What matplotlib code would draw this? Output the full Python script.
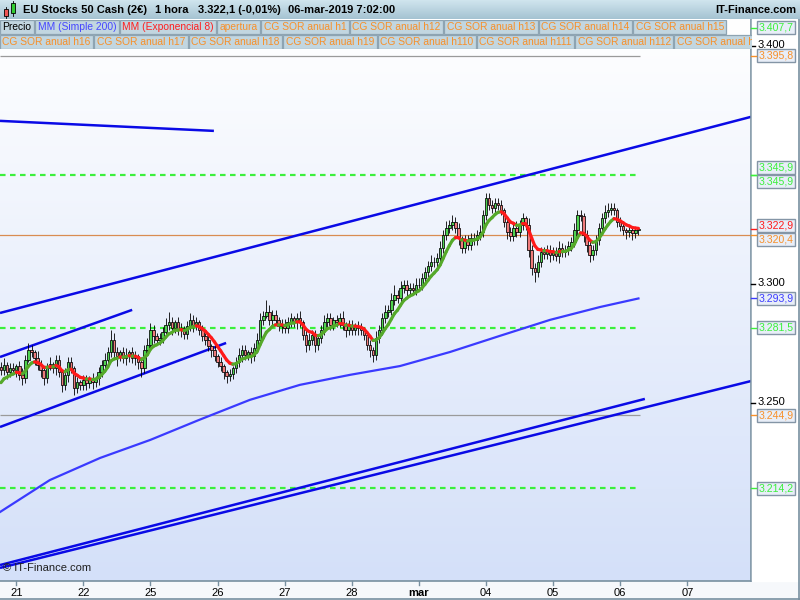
import matplotlib
matplotlib.use("Agg")
import matplotlib.pyplot as plt
import numpy as np
from matplotlib.collections import LineCollection
from matplotlib.colors import LinearSegmentedColormap
from matplotlib.patches import Rectangle

# hourly closes, EU Stocks 50, 20-feb-2019 evening .. 06-mar-2019 07:00
closes = [
    3263.9, 3266.0, 3263.0, 3264.7, 3263.9, 3265.5, 3261.8, 3260.5, 3268.1, 3272.3,
    3271.4, 3268.9, 3266.0, 3263.9, 3260.5, 3264.7, 3266.4, 3264.7, 3268.1, 3263.0,
    3257.6, 3261.8, 3267.2, 3264.7, 3256.3, 3258.8, 3257.6, 3259.7, 3258.4, 3260.5,
    3258.8, 3260.5, 3263.0, 3266.0, 3268.1, 3271.4, 3276.5, 3271.4, 3269.7, 3271.4,
    3268.9, 3270.2, 3271.4, 3268.9, 3269.7, 3267.2, 3264.7, 3272.3, 3274.4, 3280.7,
    3278.2, 3276.5, 3277.3, 3279.8, 3282.8, 3284.0, 3281.5, 3284.0, 3280.7, 3281.5,
    3279.0, 3282.4, 3284.9, 3282.8, 3284.0, 3280.7, 3278.2, 3276.5, 3273.9, 3272.3,
    3269.7, 3267.2, 3265.5, 3263.0, 3261.3, 3262.2, 3264.7, 3267.2, 3270.2, 3272.3,
    3270.2, 3271.4, 3269.7, 3273.1, 3276.5, 3284.9, 3286.6, 3288.2, 3284.9, 3287.0,
    3284.9, 3282.4, 3283.2, 3281.5, 3284.0, 3285.7, 3284.0, 3285.7, 3284.0, 3278.6,
    3274.4, 3276.5, 3278.6, 3274.4, 3277.3, 3280.7, 3284.0, 3285.7, 3282.8, 3284.9,
    3284.0, 3285.7, 3282.8, 3280.7, 3282.8, 3280.7, 3282.4, 3281.5, 3280.7, 3278.6,
    3274.4, 3272.3, 3270.2, 3277.3, 3280.7, 3285.7, 3288.2, 3289.1, 3293.3, 3295.4,
    3294.1, 3298.3, 3299.6, 3297.5, 3298.3, 3297.5, 3299.6, 3299.6, 3302.5, 3305.0,
    3307.6, 3309.2, 3309.2, 3310.9, 3315.1, 3320.6, 3323.5, 3324.8, 3326.1, 3323.5,
    3319.3, 3315.1, 3318.5, 3316.4, 3319.3, 3318.5, 3320.6, 3321.8, 3329.0, 3336.1,
    3333.2, 3331.9, 3334.0, 3333.2, 3331.1, 3326.1, 3321.8, 3320.2, 3323.5, 3321.8,
    3324.8, 3327.7, 3324.8, 3314.3, 3306.7, 3305.0, 3309.2, 3313.4, 3312.6, 3314.3,
    3312.2, 3313.4, 3311.8, 3315.1, 3313.4, 3314.3, 3316.0, 3317.6, 3322.7, 3329.0,
    3328.6, 3320.6, 3316.4, 3312.2, 3314.3, 3318.5, 3323.5, 3327.7, 3330.3, 3331.1,
    3331.9, 3331.1, 3326.1, 3324.4, 3322.7, 3321.8, 3322.7, 3321.4, 3322.7, 3322.9,
]
upper_wick = [
    2, 3, 1, 2, 2, 1, 2, 3, 2, 3, 2, 1, 3, 2, 1, 2, 3, 1, 2, 2,
    1, 3, 2, 2, 1, 2, 1, 2, 2, 1, 2, 1, 2, 2, 3, 2, 4, 3, 2, 1,
    2, 3, 1, 2, 2, 1, 2, 2, 3, 3, 2, 1, 2, 2, 3, 4, 2, 1, 2, 2,
    1, 2, 3, 2, 2, 1, 2, 1, 2, 1, 2, 1, 2, 1, 1, 2, 1, 2, 3, 2,
    2, 1, 2, 2, 3, 3, 2, 5, 3, 2, 2, 1, 2, 2, 2, 2, 1, 2, 3, 1,
    2, 3, 2, 2, 1, 2, 3, 2, 2, 1, 2, 2, 3, 1, 2, 2, 1, 2, 2, 1,
    1, 2, 1, 3, 2, 2, 3, 2, 3, 4, 2, 3, 2, 2, 2, 2, 3, 3, 2, 2,
    2, 3, 2, 2, 3, 2, 3, 2, 3, 2, 2, 1, 2, 2, 2, 2, 2, 3, 2, 2,
    2, 2, 2, 2, 2, 1, 2, 2, 2, 3, 2, 2, 1, 3, 2, 2, 3, 2, 2, 2,
    2, 2, 2, 3, 2, 2, 2, 2, 3, 2, 2, 1, 2, 2, 2, 2, 2, 2, 3, 3,
    2, 2, 1, 2, 1, 1, 2, 1, 1, 1,
]
lower_wick = [
    2, 2, 3, 2, 1, 3, 2, 3, 2, 1, 2, 3, 2, 3, 3, 2, 1, 2, 3, 2,
    3, 2, 3, 2, 3, 2, 2, 2, 3, 2, 3, 2, 3, 2, 2, 2, 2, 3, 4, 2,
    2, 3, 3, 2, 3, 3, 4, 2, 2, 2, 3, 2, 2, 2, 1, 2, 3, 2, 2, 3,
    2, 2, 2, 3, 2, 2, 2, 2, 2, 3, 2, 2, 2, 3, 3, 2, 2, 2, 2, 3,
    2, 2, 3, 2, 2, 2, 2, 1, 2, 2, 2, 2, 3, 2, 2, 2, 2, 3, 2, 2,
    3, 2, 2, 3, 2, 2, 2, 2, 2, 2, 2, 2, 2, 3, 2, 2, 2, 3, 2, 2,
    2, 3, 3, 2, 2, 2, 2, 2, 2, 2, 2, 2, 2, 3, 2, 2, 2, 2, 2, 2,
    2, 2, 2, 2, 2, 2, 2, 2, 2, 2, 3, 2, 2, 2, 2, 2, 2, 2, 2, 2,
    2, 2, 2, 2, 2, 2, 3, 2, 2, 2, 2, 2, 2, 3, 3, 4, 2, 2, 2, 2,
    3, 2, 2, 3, 2, 2, 2, 2, 2, 2, 2, 3, 3, 3, 2, 2, 2, 2, 2, 2,
    2, 2, 2, 2, 2, 3, 2, 3, 2, 2,
]
first_open = 3265.0
ema_seed = 3257.0

# simple 200 moving average
ma200_bar = [-0.3, 16, 32.5, 49, 65, 81.6, 98, 114.4, 130.8, 147.2, 163.6, 180, 196.4, 209]
ma200_val = [3204.2, 3217.6, 3226.9, 3234.5, 3242.9, 3251.3, 3257.6, 3261.8, 3265.5,
             3271.4, 3278.2, 3284.9, 3290.3, 3293.9]

# drawn trend lines: bar0, price0, bar1, price1
trend_lines = [
    (-0.33, 3368.5, 69.8, 3364.3),
    (-0.33, 3287.8, 245.9, 3370.2),
    (-0.33, 3269.3, 43.0, 3289.1),
    (-0.33, 3239.9, 73.8, 3275.2),
    (-0.33, 3181.9, 211.1, 3251.7),
    (-0.33, 3180.7, 245.9, 3259.2),
]
green_levels = [3407.7, 3345.9, 3281.5, 3214.2]
grey_levels = [3395.8, 3244.9]
apertura = 3320.4
last_price = 3322.9

day_start_bar = [5, 27, 49, 71, 93, 115, 137, 159, 181, 203, 225]
day_labels = ["21", "22", "25", "26", "27", "28", "mar", "04", "05", "06", "07"]
price_ticks = [3400, 3300, 3250]

legend_row1 = [("Precio", "black"), ("MM (Simple 200)", "#4646ff"),
               ("MM (Exponencial 8)", "#ff1f1f"), ("apertura", "#f7902a"),
               ("CG SOR anual h1", "#f7902a"), ("CG SOR anual h12", "#f7902a"),
               ("CG SOR anual h13", "#f7902a"), ("CG SOR anual h14", "#f7902a"),
               ("CG SOR anual h15", "#f7902a")]
legend_row2 = [("CG SOR anual h16", "#f7902a"), ("CG SOR anual h17", "#f7902a"),
               ("CG SOR anual h18", "#f7902a"), ("CG SOR anual h19", "#f7902a"),
               ("CG SOR anual h110", "#f7902a"), ("CG SOR anual h111", "#f7902a"),
               ("CG SOR anual h112", "#f7902a"), ("CG SOR anual h113", "#f7902a")]

GREEN = "#3cf03c"
ORANGE = "#f7902a"
side_labels = [(3407.7, GREEN), (3395.8, ORANGE), (3345.9, GREEN), (3345.9, GREEN),
               (3322.9, "#ff1a1a"), (3320.4, ORANGE), (3293.9, "#3c3cff"),
               (3281.5, GREEN), (3244.9, ORANGE), (3214.2, GREEN)]

plt.rcParams["font.family"] = ["Liberation Sans", "DejaVu Sans"]
W, H = 800, 600
X0, X1 = -0.33, 245.9
Y0, Y1 = 3175.2, 3411.3
TOP, BOT, RIGHT = 19, 581, 751


def rect(x0, y0, x1, y1):
    return [x0 / W, 1 - y1 / H, (x1 - x0) / W, (y1 - y0) / H]


def xpx(b):
    return (b - X0) / (X1 - X0) * RIGHT


def ypx(v):
    return TOP + (Y1 - v) / (Y1 - Y0) * (BOT - TOP)


def fmt(v, dec=1):
    s = f"{v:,.{dec}f}"
    return s.replace(",", "X").replace(".", ",").replace("X", ".")


fig = plt.figure(figsize=(8, 6), dpi=100)
fig.patch.set_facecolor("#f6f8fb")

# ---- main price panel
ax = fig.add_axes(rect(0, TOP, RIGHT, BOT))
bg = LinearSegmentedColormap.from_list("bg", ["#d4e0f9", "#ffffff"])
ax.imshow(np.linspace(0, 1, 256).reshape(-1, 1)[::-1], extent=[X0, X1, Y0, Y1],
          aspect="auto", cmap=bg, zorder=0, origin="upper")
ax.set_xlim(X0, X1)
ax.set_ylim(Y0, Y1)
ax.set_xticks([])
ax.set_yticks([])
for side in ["left", "top"]:
    ax.spines[side].set_visible(False)
for side in ["right", "bottom"]:
    ax.spines[side].set_color("#7890a0")
    ax.spines[side].set_linewidth(1.2)

n = len(closes)
idx = np.arange(n)
c = np.array(closes)
o = np.r_[first_open, c[:-1]]
hi = np.maximum(o, c) + np.array(upper_wick)
lo = np.minimum(o, c) - np.array(lower_wick)
end = idx[-1] + 0.5

for lvl in green_levels:
    ax.hlines(lvl, X0, end, colors="#3cf03c", lw=1.6, linestyles=(0, (2.5, 2)), zorder=1.5)
for lvl in grey_levels:
    ax.hlines(lvl, X0, end, colors="#9a9a9a", lw=0.9, zorder=1.5)
ax.axhline(apertura, color="#d98c52", lw=0.9, zorder=1.5)

for b0, p0, b1, p1 in trend_lines:
    ax.plot([b0, b1], [p0, p1], color="#0a0ae6", lw=1.8, zorder=2, solid_capstyle="butt")

ax.plot(ma200_bar, ma200_val, color="#3a3aff", lw=1.6, zorder=2)

up = c >= o
ax.vlines(idx, lo, hi, colors="black", lw=0.6, zorder=3)
ax.bar(idx[up], (c - o)[up], bottom=o[up], width=0.8, color="#4fd24f",
       edgecolor="black", lw=0.55, zorder=4)
ax.bar(idx[~up], (o - c)[~up], bottom=c[~up], width=0.8, color="#ee7b7b",
       edgecolor="black", lw=0.55, zorder=4)

ema = [ema_seed]
k = 2 / (8 + 1)
for v in closes:
    ema.append(ema[-1] + k * (v - ema[-1]))
ema = np.array(ema[1:])
pts = np.column_stack([idx, ema])
segs = np.stack([pts[:-1], pts[1:]], axis=1)
cols = ["#55a92a" if ema[i + 1] >= ema[i] else "#ff1a1a" for i in range(n - 1)]
ax.add_collection(LineCollection(segs, colors=cols, lw=2.3, zorder=5, capstyle="round"))

ax.text(0.004, 0.015, "© IT-Finance.com", transform=ax.transAxes, fontsize=8,
        ha="left", va="bottom", color="#202020", zorder=6)

# ---- overlay in pixel coordinates
ov = fig.add_axes([0, 0, 1, 1], zorder=10)
ov.set_xlim(0, W)
ov.set_ylim(H, 0)
ov.axis("off")
ov.patch.set_alpha(0)

ov.add_patch(Rectangle((RIGHT + 0.5, TOP), W - RIGHT, BOT - TOP, color="white", zorder=0))
ov.plot([W - 1, W - 1], [0, H], color="#7890a0", lw=1.2)
ov.plot([0, W], [H - 1, H - 1], color="#7890a0", lw=1.2)

# bottom date axis
for b, lab in zip(day_start_bar, day_labels):
    x = xpx(b)
    ov.plot([x, x], [BOT, BOT + 4], color="#7890a0", lw=1)
    ov.text(x, 592.5, lab, ha="center", va="center", fontsize=8,
            fontweight="bold" if lab == "mar" else "normal", color="black")

# right price axis
for p in price_ticks:
    y = ypx(p)
    ov.plot([RIGHT, RIGHT + 4], [y, y], color="black", lw=1)
    ov.text(RIGHT + 7, y - 1, fmt(p, 0), ha="left", va="center", fontsize=8, color="black")

order = sorted(range(len(side_labels)), key=lambda i: -side_labels[i][0])
pos = [ypx(side_labels[i][0]) for i in order]
for _ in range(10):
    for j in range(1, len(pos)):
        if pos[j] - pos[j - 1] < 14:
            mid = (pos[j] + pos[j - 1]) / 2
            pos[j - 1], pos[j] = mid - 7, mid + 7
for i, yb in zip(order, pos):
    v, col = side_labels[i]
    y = ypx(v)
    ov.plot([RIGHT, RIGHT + 5], [y, y], color=col, lw=1)
    ov.add_patch(Rectangle((757, yb - 6.5), 38, 13, facecolor="#e8eef8",
                           edgecolor="#8495a6", lw=1))
    ov.text(776, yb, fmt(v), ha="center", va="center", fontsize=7.6, color=col)

# ---- header bar
hd = fig.add_axes(rect(0, 0, W, TOP), zorder=11)
hdr = LinearSegmentedColormap.from_list("hd", ["#a5c3d2", "#d0e5ee"])
hd.imshow(np.linspace(0, 1, 64).reshape(-1, 1)[::-1], extent=[0, W, TOP, 0],
          aspect="auto", cmap=hdr, origin="upper")
hd.set_xlim(0, W)
hd.set_ylim(TOP, 0)
hd.axis("off")
hd.plot([6, 6], [7, 18], color="black", lw=0.6, zorder=1)
hd.add_patch(Rectangle((4, 9), 4, 7, facecolor="#ee5555", edgecolor="black", lw=0.6, zorder=2))
hd.plot([13, 13], [1, 16], color="black", lw=0.6, zorder=1)
hd.add_patch(Rectangle((11, 3), 4, 10, facecolor="#33cc33", edgecolor="black", lw=0.6, zorder=2))
for x, s in [(23, "EU Stocks 50 Cash (2€)"), (155, "1 hora"),
             (198, "3.322,1 (-0,01%)"), (288, "06-mar-2019 7:02:00")]:
    hd.text(x, 10, s, ha="left", va="center", fontsize=8, fontweight="bold")
hd.text(796, 10, "IT-Finance.com", ha="right", va="center", fontsize=8, fontweight="bold")

# ---- legend rows (clipped at the price panel edge)
lg = fig.add_axes(rect(0, 20, RIGHT + 1, 49), zorder=11)
lg.set_xlim(0, RIGHT + 1)
lg.set_ylim(49, 20)
lg.axis("off")
lg.patch.set_alpha(0)
fig.canvas.draw()
renderer = fig.canvas.get_renderer()
for row, (ytop, yb) in zip([legend_row1, legend_row2], [(20, 33.5), (34.5, 48.5)]):
    x = 0
    for s, col in row:
        t = lg.text(x + 2.5, (ytop + yb) / 2 + 0.5, s, ha="left", va="center",
                    fontsize=7.4, color=col, clip_on=True, zorder=3)
        w = t.get_window_extent(renderer).width
        lg.add_patch(Rectangle((x, ytop), w + 5, yb - ytop, facecolor="#c2d6e0",
                               edgecolor="#8ea4b2", lw=0.9, zorder=2))
        x += w + 6

fig.savefig("out.png", dpi=100)
